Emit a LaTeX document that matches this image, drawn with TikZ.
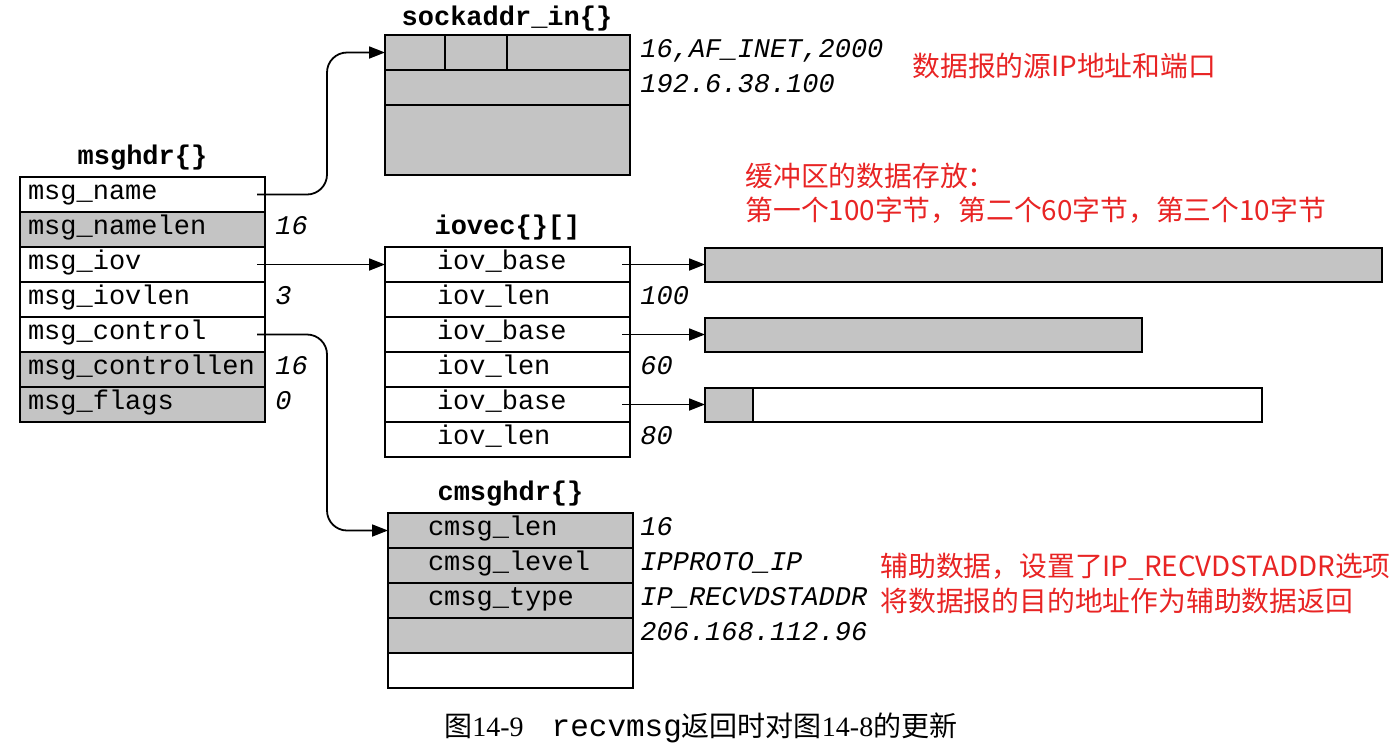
\documentclass[tikz,border=0pt]{standalone}
\usepackage{fontspec}
\setmainfont{Liberation Serif}
\setmonofont{Liberation Mono}
\newfontfamily\cjk{Noto Sans CJK SC}
\usepackage{xcolor}
\usepackage{tikz}
\usetikzlibrary{arrows.meta, positioning}

\definecolor{shade}{RGB}{196,196,196}
\definecolor{notered}{RGB}{232,36,36}

\begin{document}
\begin{tikzpicture}[
        x=0.5pt, y=-0.5pt, % one unit = one pixel of the reference
        field/.style={rectangle, draw, line width=1pt, outer sep=0pt, inner ysep=0pt,
                      minimum height=17.5pt, text height=8.5pt, text depth=3.5pt,
                      font=\fontsize{13.5}{16}\selectfont\ttfamily, align=left},
        hdrfield/.style={field, inner xsep=4pt, text width=114.5pt},
        vecfield/.style={field, inner xsep=26pt, text width=70.5pt},
        cmsgfield/.style={field, inner xsep=20pt, text width=82.5pt},
        cell/.style={field, fill=shade, inner sep=0pt},
        buf/.style={rectangle, draw, line width=1pt, fill=shade, outer sep=0pt,
                    inner sep=0pt, minimum height=17pt},
        title/.style={inner sep=0pt, text height=9.5pt, text depth=3pt,
                      font=\fontsize{13.5}{16}\selectfont\ttfamily\bfseries},
        val/.style={inner sep=0pt, text height=8.5pt, text depth=3.5pt,
                    font=\fontsize{13.5}{16}\selectfont\ttfamily\itshape},
        note/.style={anchor=west, inner sep=0pt, align=left, text=notered,
                     font=\fontsize{13.9}{17}\selectfont\cjk},
        arrow/.style={-{Triangle[length=8pt, width=6pt]}, line width=0.9pt}
      ]
      \useasboundingbox (0,0) rectangle (1396,746);

      % --- msghdr{} ---
      \node[hdrfield] (mname) at (142.5,194.5) {msg\_name};
      \node[hdrfield, fill=shade, below=0pt of mname] (mnamelen) {msg\_namelen};
      \node[hdrfield, below=0pt of mnamelen] (miov) {msg\_iov};
      \node[hdrfield, below=0pt of miov] (miovlen) {msg\_iovlen};
      \node[hdrfield, below=0pt of miovlen] (mctl) {msg\_control};
      \node[hdrfield, fill=shade, below=0pt of mctl] (mctllen) {msg\_controllen};
      \node[hdrfield, fill=shade, below=0pt of mctllen] (mflags) {msg\_flags};
      \node[title, above=3pt of mname] (mtitle) {msghdr\{\}};

      \node[val, right=5pt of mnamelen] {16};
      \node[val, right=5pt of miovlen] {3};
      \node[val, right=5pt of mctllen] {16};
      \node[val, right=5pt of mflags] {0};

      % --- sockaddr_in{} ---
      \node[cell, minimum width=122.5pt] (saaddr) at (507.5,87.5) {};
      \node[cell, minimum width=30pt, anchor=south west] (salen) at (saaddr.north west) {};
      \node[cell, minimum width=31pt, right=0pt of salen] (safam) {};
      \node[cell, minimum width=61.5pt, right=0pt of safam] (saport) {};
      \node[cell, minimum width=122.5pt, minimum height=35pt, below=0pt of saaddr] (sazero) {};
      \node[title, above=1.5pt of safam.north east] (satitle) {sockaddr\_in\{\}};

      \node[val, right=5pt of saport] (saval) {16,AF\_INET,2000};
      \node[val, right=5pt of saaddr] (saip) {192.6.38.100};

      % --- iovec{}[] ---
      \node[vecfield] (ib1) at (507.5,264.5) {iov\_base};
      \node[vecfield, below=0pt of ib1] (il1) {iov\_len};
      \node[vecfield, below=0pt of il1] (ib2) {iov\_base};
      \node[vecfield, below=0pt of ib2] (il2) {iov\_len};
      \node[vecfield, below=0pt of il2] (ib3) {iov\_base};
      \node[vecfield, below=0pt of ib3] (il3) {iov\_len};
      \node[title, above=3pt of ib1] (ivtitle) {iovec\{\}[]};

      \node[val, right=5pt of il1] {100};
      \node[val, right=5pt of il2] {60};
      \node[val, right=5pt of il3] {80};

      % buffers
      \node[buf, minimum width=338.5pt, right=37.5pt of ib1] (buf1) {};
      \node[buf, minimum width=218.5pt, right=37.5pt of ib2] (buf2) {};
      \node[buf, minimum width=24pt, right=37.5pt of ib3] (buf3) {};
      \node[buf, fill=white, minimum width=254.5pt, right=0pt of buf3] (buf3rest) {};

      % --- cmsghdr{} ---
      \node[cmsgfield, fill=shade] (clen) at (510.5,530.5) {cmsg\_len};
      \node[cmsgfield, fill=shade, below=0pt of clen] (clevel) {cmsg\_level};
      \node[cmsgfield, fill=shade, below=0pt of clevel] (ctype) {cmsg\_type};
      \node[cmsgfield, fill=shade, below=0pt of ctype] (cdata) {};
      \node[cmsgfield, below=0pt of cdata] (cpad) {};
      \node[title, above=3pt of clen] (ctitle) {cmsghdr\{\}};

      \node[val, right=3.5pt of clen] {16};
      \node[val, right=3.5pt of clevel] {IPPROTO\_IP};
      \node[val, right=3.5pt of ctype] {IP\_RECVDSTADDR};
      \node[val, right=3.5pt of cdata] {206.168.112.96};

      % notes
      \node[note] (srcnote) at (912,66) {数据报的源IP地址和端口};
      \node[note] (bufnote) at (745,193) {缓冲区的数据存放：\\第一个100字节，第二个60字节，第三个10字节};
      \node[note, font=\fontsize{13.9}{17.5}\selectfont\cjk] (ctlnote) at (880,583)
            {辅助数据，设置了IP\_RECVDSTADDR选项\\将数据报的目的地址作为辅助数据返回};

      % caption
      \node[anchor=west, inner sep=0pt, font=\fontsize{14}{16}\selectfont] (caption) at (444,728)
            {{\cjk 图}14-9\hspace{14pt}{\ttfamily\fontsize{15.5}{16}\selectfont recvmsg}{\cjk 返回时对图}14-8{\cjk 的更新}};

      % --- Arrows ---
      \draw[arrow, rounded corners=10pt] ([xshift=-4pt]mname.east) -| ([xshift=-29pt]salen.west) -- (salen.west);
      \draw[arrow] ([xshift=-4pt]miov.east) -- (ib1);
      \draw[arrow, rounded corners=10pt] ([xshift=-4pt]mctl.east) -| ([xshift=-30.5pt]clen.west) -- (clen.west);
      \draw[arrow] ([xshift=-4pt]ib1.east) -- (buf1);
      \draw[arrow] ([xshift=-4pt]ib2.east) -- (buf2);
      \draw[arrow] ([xshift=-4pt]ib3.east) -- (buf3);

    \end{tikzpicture}
\end{document}
